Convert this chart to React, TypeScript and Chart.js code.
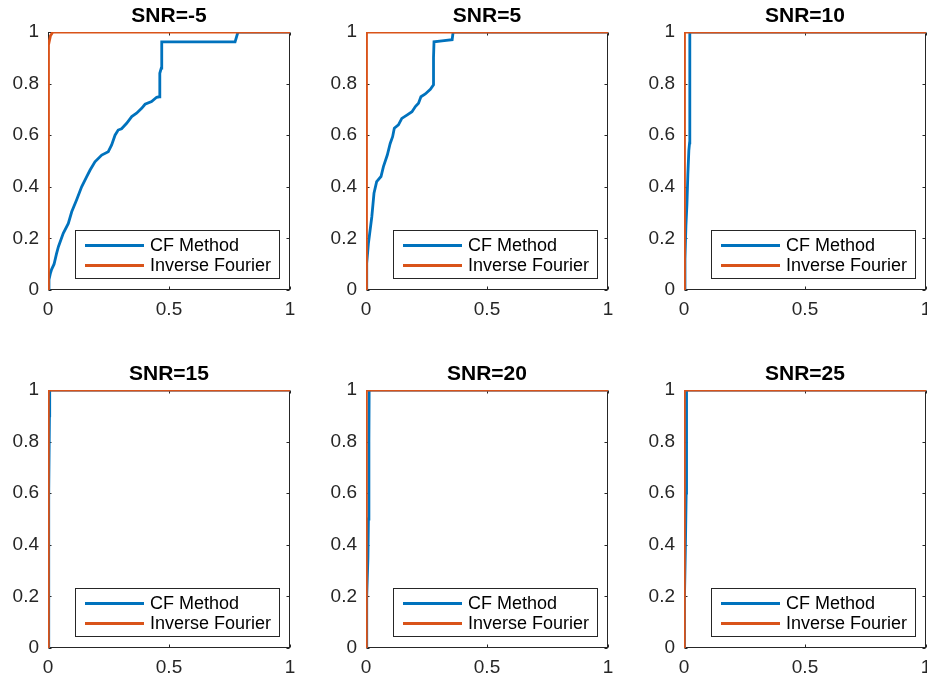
import React, { useEffect, useRef } from "react";
import { Chart, registerables } from "chart.js";

Chart.register(...registerables);

// ---- data ----
const seriesNames = ["CF Method", "Inverse Fourier"];
const panelTitles = ["SNR=-5", "SNR=5", "SNR=10", "SNR=15", "SNR=20", "SNR=25"];
const xTicks = [0, 0.5, 1];
const yTicks = [0, 0.2, 0.4, 0.6, 0.8, 1];

// SNR=-5
const cfX_m5 = [0, 0.004, 0.01, 0.015, 0.025, 0.035, 0.043, 0.063, 0.084, 0.098, 0.118, 0.139, 0.16, 0.174, 0.194, 0.222, 0.249, 0.263, 0.277, 0.29, 0.304, 0.325, 0.346, 0.366, 0.387, 0.401, 0.428, 0.449, 0.46, 0.462, 0.468, 0.47, 0.773, 0.785, 1];
const cfY_m5 = [0, 0.04, 0.065, 0.08, 0.1, 0.14, 0.168, 0.22, 0.258, 0.303, 0.349, 0.4, 0.439, 0.465, 0.497, 0.523, 0.536, 0.562, 0.6, 0.62, 0.625, 0.646, 0.672, 0.685, 0.704, 0.72, 0.73, 0.747, 0.749, 0.84, 0.86, 0.962, 0.962, 1, 1];
const ifX_m5 = [0, 0, 0.004, 0.01, 0.02, 1];
const ifY_m5 = [0, 0.85, 0.95, 0.985, 1, 1];

// SNR=5
const cfX_5 = [0, 0.003, 0.01, 0.024, 0.033, 0.044, 0.062, 0.072, 0.088, 0.1, 0.11, 0.117, 0.134, 0.148, 0.169, 0.19, 0.204, 0.217, 0.227, 0.245, 0.266, 0.279, 0.279, 0.281, 0.314, 0.356, 0.36, 1];
const cfY_5 = [0, 0.103, 0.181, 0.284, 0.375, 0.42, 0.44, 0.478, 0.523, 0.568, 0.594, 0.627, 0.64, 0.665, 0.678, 0.691, 0.711, 0.724, 0.749, 0.76, 0.778, 0.795, 0.9, 0.962, 0.966, 0.97, 1, 1];
const ifX_5 = [0, 0, 0.004, 1];
const ifY_5 = [0, 0.99, 1, 1];

// SNR=10
const cfX_10 = [0, 0.004, 0.008, 0.012, 0.016, 0.02, 0.023, 0.024, 0.024, 1];
const cfY_10 = [0, 0.12, 0.25, 0.33, 0.45, 0.54, 0.57, 0.6, 1, 1];
const ifX_10 = [0, 0, 0.004, 1];
const ifY_10 = [0, 0.97, 1, 1];

// SNR=15
const cfX_15 = [0, 0.002, 0.004, 0.006, 0.007, 1];
const cfY_15 = [0, 0.3, 0.6, 0.9, 1, 1];
const ifX_15 = [0, 0, 0.003, 1];
const ifY_15 = [0, 0.98, 1, 1];

// SNR=20
const cfX_20 = [0, 0.003, 0.008, 0.01, 0.012, 0.013, 1];
const cfY_20 = [0, 0.2, 0.35, 0.5, 0.8, 1, 1];
const ifX_20 = [0, 0, 0.003, 1];
const ifY_20 = [0, 0.98, 1, 1];

// SNR=25
const cfX_25 = [0, 0.002, 0.006, 0.009, 0.01, 0.011, 1];
const cfY_25 = [0, 0.2, 0.4, 0.6, 0.8, 1, 1];
const ifX_25 = [0, 0, 0.003, 1];
const ifY_25 = [0, 0.97, 1, 1];

const panelData = [
  [cfX_m5, cfY_m5, ifX_m5, ifY_m5],
  [cfX_5, cfY_5, ifX_5, ifY_5],
  [cfX_10, cfY_10, ifX_10, ifY_10],
  [cfX_15, cfY_15, ifX_15, ifY_15],
  [cfX_20, cfY_20, ifX_20, ifY_20],
  [cfX_25, cfY_25, ifX_25, ifY_25],
];

// ---- style / layout ----
const FONT = "'Liberation Sans', Arial, Helvetica, sans-serif";
const AXIS_COLOR = "#262626";
const COLORS = ["#0072BD", "#D95319"];
const LINE_W = 2.8;
const TICK_SIZE = 19;
const TITLE_SIZE = 21;
const LEGEND_SIZE = 18;
const colLefts = [48, 366, 684];
const rowTops = [32, 390];
const PLOT_W = 242;
const PLOT_H = 258;
const LEFT_W = 48;
const TOP_H = 32;
const BOTTOM_H = 40;
const RIGHT_PAD = 22;

const zip = (xs: number[], ys: number[]) => xs.map((x, i) => ({ x, y: ys[i] }));

const framePlugin = {
  id: "matlabFrame",
  beforeDatasetsDraw(chart: any) {
    const { ctx, chartArea: a, scales } = chart;
    ctx.save();
    ctx.strokeStyle = AXIS_COLOR;
    ctx.lineWidth = 1;
    const l = Math.round(a.left) + 0.5;
    const r = Math.round(a.right) - 0.5;
    const t = Math.round(a.top) + 0.5;
    const b = Math.round(a.bottom) - 0.5;
    ctx.strokeRect(l, t, r - l, b - t);
    const tl = 3;
    ctx.beginPath();
    yTicks.forEach((v) => {
      const y = Math.round(scales.y.getPixelForValue(v)) + 0.5;
      ctx.moveTo(l, y);
      ctx.lineTo(l + tl, y);
      ctx.moveTo(r, y);
      ctx.lineTo(r - tl, y);
    });
    xTicks.forEach((v) => {
      const x = Math.round(scales.x.getPixelForValue(v)) + 0.5;
      ctx.moveTo(x, b);
      ctx.lineTo(x, b - tl);
      ctx.moveTo(x, t);
      ctx.lineTo(x, t + tl);
    });
    ctx.stroke();
    ctx.restore();
  },
};

const legendPlugin = {
  id: "boxLegend",
  afterDatasetsDraw(chart: any) {
    const { ctx, chartArea: a } = chart;
    const w = 204;
    const h = 48;
    const x0 = Math.round(a.right - 11 - w);
    const y0 = Math.round(a.bottom - 12 - h);
    ctx.save();
    ctx.fillStyle = "#ffffff";
    ctx.fillRect(x0, y0, w, h);
    ctx.strokeStyle = AXIS_COLOR;
    ctx.lineWidth = 1;
    ctx.strokeRect(x0 + 0.5, y0 + 0.5, w, h);
    chart.data.datasets.forEach((ds: any, i: number) => {
      const yy = y0 + 15.5 + i * 20;
      ctx.strokeStyle = ds.borderColor;
      ctx.lineWidth = ds.borderWidth;
      ctx.beginPath();
      ctx.moveTo(x0 + 10, yy);
      ctx.lineTo(x0 + 69, yy);
      ctx.stroke();
      ctx.fillStyle = "#000000";
      ctx.font = `${LEGEND_SIZE}px ${FONT}`;
      ctx.textAlign = "left";
      ctx.textBaseline = "middle";
      ctx.fillText(ds.label, x0 + 75, yy + 1);
    });
    ctx.restore();
  },
};

function Panel({ index }: { index: number }) {
  const ref = useRef<HTMLCanvasElement | null>(null);
  const col = index % 3;
  const row = Math.floor(index / 3);
  const cw = LEFT_W + PLOT_W + RIGHT_PAD;
  const chh = TOP_H + PLOT_H + BOTTOM_H;

  useEffect(() => {
    if (!ref.current) return;
    const [cx, cy, ix, iy] = panelData[index];
    const chart = new Chart(ref.current, {
      type: "line",
      data: {
        datasets: [
          {
            label: seriesNames[0],
            data: zip(cx, cy),
            borderColor: COLORS[0],
            backgroundColor: COLORS[0],
            borderWidth: LINE_W,
            pointRadius: 0,
            tension: 0,
            fill: false,
            order: 1,
          },
          {
            label: seriesNames[1],
            data: zip(ix, iy),
            borderColor: COLORS[1],
            backgroundColor: COLORS[1],
            borderWidth: LINE_W,
            pointRadius: 0,
            tension: 0,
            fill: false,
            order: 0,
          },
        ],
      },
      options: {
        animation: false,
        responsive: false,
        maintainAspectRatio: false,
        layout: { padding: { left: 0, top: 0, right: RIGHT_PAD, bottom: 0 } },
        plugins: {
          legend: { display: false },
          tooltip: { enabled: false },
          title: {
            display: true,
            text: panelTitles[index],
            fullSize: false,
            color: "#000000",
            font: { family: FONT, size: TITLE_SIZE, weight: "bold", lineHeight: 1.2 },
            padding: { top: 4, bottom: TOP_H - 4 - TITLE_SIZE * 1.2 },
          },
        },
        scales: {
          x: {
            type: "linear",
            min: 0,
            max: 1,
            afterBuildTicks: (s: any) => {
              s.ticks = xTicks.map((v) => ({ value: v }));
            },
            afterFit: (s: any) => {
              s.height = BOTTOM_H;
            },
            grid: { display: false, drawTicks: false },
            border: { display: false },
            ticks: {
              padding: 8,
              color: AXIS_COLOR,
              font: { family: FONT, size: TICK_SIZE },
              maxRotation: 0,
              autoSkip: false,
              callback: (v: any) => String(v),
            },
          },
          y: {
            type: "linear",
            min: 0,
            max: 1,
            afterBuildTicks: (s: any) => {
              s.ticks = yTicks.map((v) => ({ value: v }));
            },
            afterFit: (s: any) => {
              s.width = LEFT_W;
            },
            grid: { display: false, drawTicks: false },
            border: { display: false },
            ticks: {
              padding: 9,
              color: AXIS_COLOR,
              font: { family: FONT, size: TICK_SIZE },
              autoSkip: false,
              callback: (v: any) => String(v),
            },
          },
        },
      },
      plugins: [framePlugin, legendPlugin],
    } as any);
    return () => chart.destroy();
  }, [index]);

  return (
    <canvas
      ref={ref}
      width={cw}
      height={chh}
      style={{
        position: "absolute",
        left: colLefts[col] - LEFT_W,
        top: rowTops[row] - TOP_H,
        width: cw,
        height: chh,
      }}
    />
  );
}

export default function App() {
  return (
    <div
      style={{
        position: "fixed",
        left: 0,
        top: 0,
        width: 927,
        height: 679,
        overflow: "hidden",
        background: "#ffffff",
      }}
    >
      {panelTitles.map((_, i) => (
        <Panel key={i} index={i} />
      ))}
    </div>
  );
}
